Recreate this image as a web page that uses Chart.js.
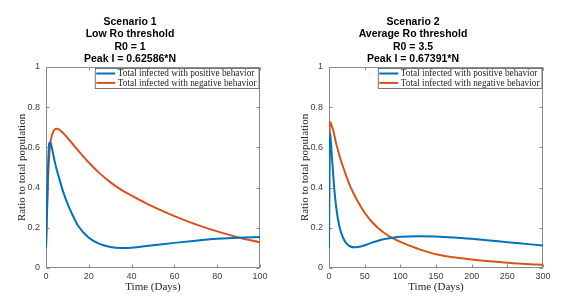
<!DOCTYPE html>
<html>
<head>
<meta charset="utf-8">
<script src="https://cdn.jsdelivr.net/npm/chart.js@4.4.1/dist/chart.umd.min.js"></script>
<style>
  html, body { margin: 0; padding: 0; background: #fff; }
  body { width: 565px; height: 298px; position: relative; overflow: hidden; }
  .wrap { position: absolute; top: 0; width: 282px; height: 298px; }
</style>
</head>
<body>
<div class="wrap" style="left:0"><canvas id="c1" width="282" height="298"></canvas></div>
<div class="wrap" style="left:283px"><canvas id="c2" width="282" height="298"></canvas></div>
<script>
// ---- Data ----
const legendLabels = ['Total infected with positive behavior', 'Total infected with negative behavior'];

const leftTitle = ['Scenario 1', 'Low Ro threshold', 'R0 = 1', 'Peak I = 0.62586*N'];
const leftXTicks = [0, 20, 40, 60, 80, 100];
const leftDays =     [0, 0.5, 1, 1.5, 2, 3, 4, 5, 6, 8, 10, 12, 15, 20, 25, 30, 35, 40, 45, 50, 60, 70, 80, 90, 100];
const leftPositive = [0.10, 0.32, 0.52, 0.62, 0.626, 0.585, 0.533, 0.49, 0.452, 0.38, 0.322, 0.273, 0.21, 0.15, 0.12, 0.105, 0.100, 0.101, 0.107, 0.113, 0.125, 0.136, 0.145, 0.151, 0.154];
const leftNegative = [0.10, 0.28, 0.45, 0.56, 0.62, 0.668, 0.688, 0.693, 0.69, 0.672, 0.648, 0.623, 0.585, 0.525, 0.472, 0.427, 0.39, 0.36, 0.332, 0.305, 0.258, 0.217, 0.182, 0.152, 0.128];

const rightTitle = ['Scenario 2', 'Average Ro threshold', 'R0 = 3.5', 'Peak I = 0.67391*N'];
const rightXTicks = [0, 50, 100, 150, 200, 250, 300];
const rightDays =     [0, 0.5, 1, 2, 3.5, 5.5, 7.5, 10, 12.5, 15, 20, 25, 30, 35, 40, 50, 60, 70, 80, 90, 100, 112.5, 125, 150, 175, 200, 225, 250, 275, 300];
const rightPositive = [0.10, 0.45, 0.674, 0.655, 0.58, 0.485, 0.39, 0.305, 0.245, 0.2, 0.148, 0.12, 0.107, 0.103, 0.104, 0.113, 0.126, 0.137, 0.145, 0.151, 0.155, 0.157, 0.158, 0.157, 0.152, 0.145, 0.137, 0.128, 0.12, 0.112];
const rightNegative = [0.10, 0.50, 0.70, 0.726, 0.71, 0.69, 0.66, 0.62, 0.587, 0.555, 0.5, 0.45, 0.405, 0.367, 0.333, 0.275, 0.23, 0.195, 0.168, 0.147, 0.13, 0.112, 0.095, 0.068, 0.053, 0.042, 0.033, 0.026, 0.02, 0.016];

const yTicks = [0, 0.2, 0.4, 0.6, 0.8, 1];

// ---- Styling ----
const BLUE = '#0072BD';
const ORANGE = '#D95319';
const AXIS = '#8c8c8c';
const TICKTXT = '#404040';
const SANS = "'Liberation Sans', Arial, sans-serif";
const SERIF = "'Liberation Serif', 'Times New Roman', serif";

const framePlugin = {
  id: 'frame',
  beforeDatasetsDraw(chart) {
    const {ctx, chartArea: a, scales: {x, y}} = chart;
    ctx.save();
    ctx.strokeStyle = AXIS;
    ctx.lineWidth = 1;
    const L = Math.round(a.left) + 0.5, R = Math.round(a.right) - 0.5;
    const T = Math.round(a.top) + 0.5, B = Math.round(a.bottom) - 0.5;
    ctx.strokeRect(L, T, R - L, B - T);
    ctx.beginPath();
    x.ticks.forEach(t => {
      const px = Math.round(x.getPixelForValue(t.value)) + 0.5;
      ctx.moveTo(px, B); ctx.lineTo(px, B - 3);
      ctx.moveTo(px, T); ctx.lineTo(px, T + 3);
    });
    y.ticks.forEach(t => {
      const py = Math.round(y.getPixelForValue(t.value)) + 0.5;
      ctx.moveTo(L, py); ctx.lineTo(L + 3, py);
      ctx.moveTo(R, py); ctx.lineTo(R - 3, py);
    });
    ctx.stroke();
    ctx.restore();
  }
};

const boxLegendPlugin = {
  id: 'boxLegend',
  afterDatasetsDraw(chart) {
    const {ctx, chartArea: a} = chart;
    ctx.save();
    ctx.font = '9.3px ' + SERIF;
    const textW = Math.max(...chart.data.datasets.map(d => ctx.measureText(d.label).width));
    const padL = 1.5, lineLen = 19, gap = 2.5, padR = 2.5;
    const w = padL + lineLen + gap + textW + padR;
    const h = 20;
    const right = Math.round(a.right) - 1;
    const left = right - w;
    const top = Math.round(a.top) + 1.5;
    ctx.fillStyle = '#fff';
    ctx.fillRect(left, top, w, h);
    ctx.strokeStyle = '#555';
    ctx.lineWidth = 0.8;
    ctx.strokeRect(left + 0.5, top, w - 0.5, h);
    chart.data.datasets.forEach((d, i) => {
      const cy = top + 5 + i * 9.4;
      ctx.strokeStyle = d.borderColor;
      ctx.lineWidth = 2;
      ctx.beginPath();
      ctx.moveTo(left + padL, cy); ctx.lineTo(left + padL + lineLen, cy);
      ctx.stroke();
      ctx.fillStyle = '#262626';
      ctx.textBaseline = 'middle';
      ctx.textAlign = 'left';
      ctx.fillText(d.label, left + padL + lineLen + gap, cy + 0.5);
    });
    ctx.restore();
  }
};

function pts(xs, ys) { return xs.map((v, i) => ({x: v, y: ys[i]})); }

function makeChart(id, title, days, pos, neg, xTicks) {
  const xMax = xTicks[xTicks.length - 1];
  return new Chart(document.getElementById(id), {
    type: 'line',
    data: {
      datasets: [
        {label: legendLabels[0], data: pts(days, pos), borderColor: BLUE, borderWidth: 2, pointRadius: 0, cubicInterpolationMode: 'monotone', fill: false},
        {label: legendLabels[1], data: pts(days, neg), borderColor: ORANGE, borderWidth: 2, pointRadius: 0, cubicInterpolationMode: 'monotone', fill: false}
      ]
    },
    options: {
      responsive: false,
      animation: false,
      devicePixelRatio: 1,
      layout: {padding: {left: 0, right: 22, top: 0, bottom: 0}},
      plugins: {
        legend: {display: false},
        tooltip: {enabled: false},
        title: {
          display: true,
          text: title,
          color: '#000',
          font: {family: SANS, size: 10.5, weight: 'bold', lineHeight: 1.171},
          padding: {top: 15.9, bottom: 1.9}
        }
      },
      scales: {
        x: {
          type: 'linear',
          min: 0, max: xMax,
          afterBuildTicks: s => { s.ticks = xTicks.map(v => ({value: v})); },
          afterFit: s => { s.height = 30; },
          grid: {display: false, drawTicks: false},
          border: {display: false},
          ticks: {color: TICKTXT, font: {family: SANS, size: 9}, padding: 3, maxRotation: 0, autoSkip: false,
                  callback: v => String(v)},
          title: {display: true, text: 'Time (Days)', color: '#262626', font: {family: SERIF, size: 11, lineHeight: 1.2}, padding: {top: 0, bottom: 4}}
        },
        y: {
          type: 'linear',
          min: 0, max: 1,
          afterBuildTicks: s => { s.ticks = yTicks.map(v => ({value: v})); },
          afterFit: s => { s.width = 46; },
          grid: {display: false, drawTicks: false},
          border: {display: false},
          ticks: {color: TICKTXT, font: {family: SANS, size: 9}, padding: 6,
                  callback: v => String(+Number(v).toFixed(1))},
          title: {display: true, text: 'Ratio to total population', color: '#262626', font: {family: SERIF, size: 11, lineHeight: 1.2}, padding: {top: 16, bottom: 0}}
        }
      }
    },
    plugins: [framePlugin, boxLegendPlugin]
  });
}

makeChart('c1', leftTitle, leftDays, leftPositive, leftNegative, leftXTicks);
makeChart('c2', rightTitle, rightDays, rightPositive, rightNegative, rightXTicks);
</script>
</body>
</html>
